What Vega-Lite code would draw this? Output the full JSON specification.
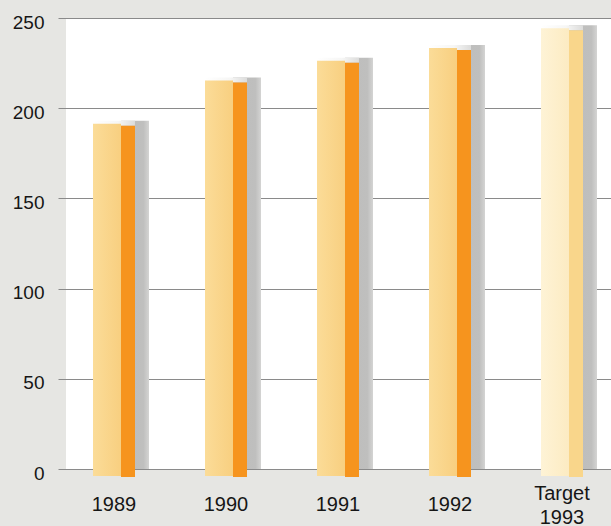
{
  "$schema": "https://vega.github.io/schema/vega-lite/v6.json",
  "width": 545,
  "height": 451,
  "autosize": {"type": "none"},
  "padding": {"left": 66, "top": 18, "right": 0, "bottom": 57},
  "background": "#e6e6e3",
  "config": {
    "view": {"fill": "#ffffff", "stroke": null},
    "font": "Liberation Sans",
    "axis": {"labelFont": "Liberation Sans", "labelColor": "#161616"}
  },
  "data": {
    "values": [
      {"year": "1989", "value": 193, "target": false},
      {"year": "1990", "value": 217, "target": false},
      {"year": "1991", "value": 228, "target": false},
      {"year": "1992", "value": 235, "target": false},
      {"year": "Target 1993", "value": 246, "target": true}
    ]
  },
  "encoding": {
    "x": {
      "field": "year",
      "type": "nominal",
      "sort": null,
      "scale": {"range": [-8, 552], "paddingInner": 0, "paddingOuter": 0},
      "axis": {
        "title": null,
        "domain": false,
        "ticks": false,
        "grid": false,
        "labelAngle": 0,
        "labelFontSize": 20,
        "labelBaseline": "middle",
        "labelPadding": {"condition": {"test": "datum.value == 'Target 1993'", "value": 24}, "value": 35},
        "labelLineHeight": 24,
        "labelExpr": "datum.value == 'Target 1993' ? ['Target', '1993'] : datum.label"
      }
    },
    "y": {
      "field": "value",
      "type": "quantitative",
      "scale": {"domain": [0, 250], "nice": false},
      "axis": {
        "title": null,
        "values": [0, 50, 100, 150, 200, 250],
        "domain": false,
        "ticks": false,
        "grid": true,
        "gridColor": "#8a8a8a",
        "gridWidth": 1,
        "gridOpacity": 1,
        "labelFontSize": 19,
        "labelPadding": 22,
        "labelOffset": 4
      }
    }
  },
  "layer": [
    {
      "mark": {"type": "bar", "width": 28, "xOffset": 21, "color": {"gradient": "linear", "x1": 0, "x2": 1, "y1": 0, "y2": 0, "stops": [{"offset": 0, "color": "#bdbdbc"}, {"offset": 0.8, "color": "#bfbfbe"}, {"offset": 1, "color": "#d4d4d3"}]}},
      "encoding": {"y2": {"datum": 0}}
    },
    {
      "mark": {"type": "bar", "width": 42, "xOffset": 0, "y2Offset": 5, "color": {"gradient": "linear", "x1": 0, "x2": 1, "y1": 0, "y2": 0, "stops": [{"offset": 0, "color": "#ffffff"}, {"offset": 0.6, "color": "#f6f6f5"}, {"offset": 1, "color": "#dcdcdb"}]}},
      "encoding": {"y2": {"field": "value"}}
    },
    {
      "transform": [{"filter": "!datum.target"}],
      "mark": {"type": "bar", "width": 28, "xOffset": -7, "yOffset": 3, "y2Offset": 7, "color": {"gradient": "linear", "x1": 0, "x2": 1, "y1": 0, "y2": 0, "stops": [{"offset": 0, "color": "#fbdc98"}, {"offset": 1, "color": "#f8cf80"}]}},
      "encoding": {"y2": {"datum": 0}}
    },
    {
      "transform": [{"filter": "!datum.target"}],
      "mark": {"type": "bar", "width": 14, "xOffset": 14, "yOffset": 5, "y2Offset": 8, "color": "#f6941e"},
      "encoding": {"y2": {"datum": 0}}
    },
    {
      "transform": [{"filter": "datum.target"}],
      "mark": {"type": "bar", "width": 28, "xOffset": -7, "yOffset": 3, "y2Offset": 7, "color": {"gradient": "linear", "x1": 0, "x2": 1, "y1": 0, "y2": 0, "stops": [{"offset": 0, "color": "#fef3d6"}, {"offset": 1, "color": "#fcebc2"}]}},
      "encoding": {"y2": {"datum": 0}}
    },
    {
      "transform": [{"filter": "datum.target"}],
      "mark": {"type": "bar", "width": 14, "xOffset": 14, "yOffset": 5, "y2Offset": 8, "color": "#f9d68b"},
      "encoding": {"y2": {"datum": 0}}
    }
  ]
}
